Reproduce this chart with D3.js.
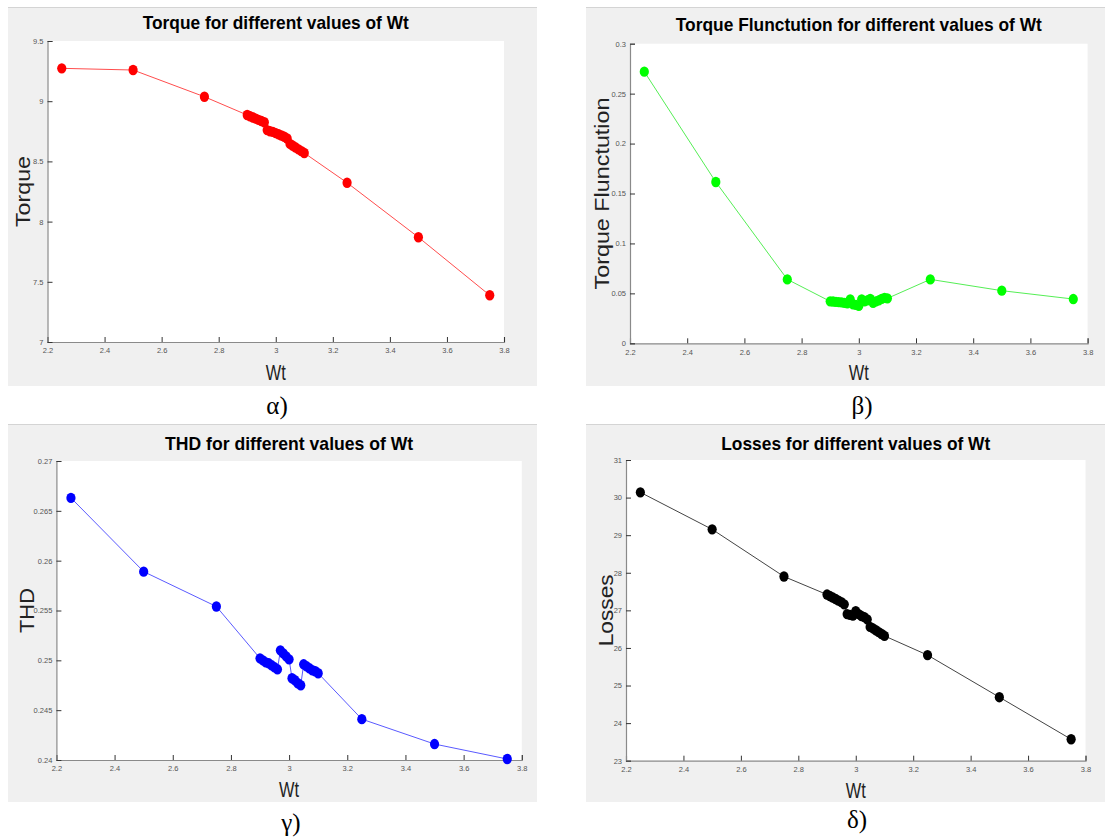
<!DOCTYPE html>
<html>
<head>
<meta charset="utf-8">
<script src="https://cdn.jsdelivr.net/npm/d3@7"></script>
<style>
  html, body { margin: 0; padding: 0; background: #ffffff; }
  svg { display: block; }
</style>
</head>
<body>
<svg id="chart" width="1105" height="839"></svg>
<script>
// ---------------- DATA ----------------
const wt = [2.25, 2.5, 2.75,
  2.90, 2.91, 2.92, 2.93, 2.94, 2.95, 2.96, 2.97, 2.98, 2.99, 3.00,
  3.01, 3.02, 3.03, 3.04, 3.05, 3.06, 3.07, 3.08, 3.09, 3.10,
  3.25, 3.5, 3.75];

const torque = [9.273, 9.259, 9.037,
  8.885, 8.875, 8.865, 8.855, 8.845, 8.835, 8.825, 8.760, 8.750, 8.745, 8.735,
  8.725, 8.715, 8.705, 8.690, 8.645, 8.630, 8.615, 8.600, 8.585, 8.570,
  8.323, 7.870, 7.388];

const torqueFluct = [0.272, 0.1615, 0.064,
  0.0420, 0.0418, 0.0415, 0.0412, 0.0410, 0.0405, 0.0400, 0.0440, 0.0390, 0.0385, 0.0375,
  0.0440, 0.0420, 0.0430, 0.0445, 0.0405, 0.0420, 0.0430, 0.0445, 0.0455, 0.0450,
  0.064, 0.0527, 0.0443];

const thd = [0.2663, 0.2589, 0.2554,
  0.2502, 0.2500, 0.2498, 0.2497, 0.2495, 0.2493, 0.2491, 0.2510, 0.2507, 0.2504, 0.2501,
  0.2482, 0.2480, 0.2477, 0.2475, 0.2496, 0.2494, 0.2492, 0.2490, 0.2489, 0.2487,
  0.2441, 0.2416, 0.2401];

const losses = [30.14, 29.155, 27.90,
  27.42, 27.38, 27.34, 27.30, 27.26, 27.22, 27.16, 26.90, 26.88, 26.86, 26.98,
  26.90, 26.85, 26.82, 26.76, 26.56, 26.52, 26.47, 26.42, 26.37, 26.32,
  25.81, 24.69, 23.57];

const xTicks = [2.2, 2.4, 2.6, 2.8, 3, 3.2, 3.4, 3.6, 3.8];
const torqueTicks = [7, 7.5, 8, 8.5, 9, 9.5];
const fluctTicks = [0, 0.05, 0.1, 0.15, 0.2, 0.25, 0.3];
const thdTicks = [0.24, 0.245, 0.25, 0.255, 0.26, 0.265, 0.27];
const lossTicks = [23, 24, 25, 26, 27, 28, 29, 30, 31];

const titles = ["Torque for different values of Wt",
                "Torque Flunctution for different values of Wt",
                "THD for different values of Wt",
                "Losses for different values of Wt"];
const yLabels = ["Torque", "Torque Flunctution", "THD", "Losses"];
const captions = ["α)", "β)", "γ)", "δ)"];

// ---------------- LAYOUT ----------------
const panels = [
  { values: torque, yTicks: torqueTicks, color: "#ff0000", line: "#ff4d4d",
    bg: [8, 7, 537, 386], plot: [47.5, 41, 504, 342],
    titleY: 29, titleW: 266, yLabX: 30, yLabLen: 71, wtY: 380, capX: 277, capY: 414 },
  { values: torqueFluct, yTicks: fluctTicks, color: "#00ff00", line: "#55ee55",
    bg: [586, 7, 1105, 386], plot: [630, 43.7, 1087.6, 343.3],
    titleY: 31, titleW: 366, yLabX: 609, yLabLen: 192, wtY: 380, capX: 862, capY: 414 },
  { values: thd, yTicks: thdTicks, color: "#0000ff", line: "#5a5aff",
    bg: [8, 424, 537, 802], plot: [56.4, 461, 521.8, 760],
    titleY: 450, titleW: 248, yLabX: 34, yLabLen: 45, wtY: 797, capX: 291, capY: 831 },
  { values: losses, yTicks: lossTicks, color: "#000000", line: "#444444",
    bg: [586, 424, 1105, 802], plot: [626, 460, 1085.5, 760.7],
    titleY: 450, titleW: 269, yLabX: 613, yLabLen: 72, wtY: 798, capX: 857, capY: 828 }
];

const svg = d3.select("#chart");

panels.forEach((p, i) => {
  const g = svg.append("g");
  const [bx0, by0, bx1, by1] = p.bg;
  const [px0, py0, px1, py1] = p.plot;

  g.append("rect").attr("x", bx0).attr("y", by0)
    .attr("width", bx1 - bx0).attr("height", by1 - by0)
    .attr("fill", "#f0f0f0");
  g.append("line").attr("x1", bx0).attr("x2", bx1).attr("y1", by0 + 0.5).attr("y2", by0 + 0.5)
    .attr("stroke", "#d4d4d4").attr("stroke-width", 1);

  g.append("rect").attr("x", px0).attr("y", py0)
    .attr("width", px1 - px0).attr("height", py1 - py0)
    .attr("fill", "#ffffff");

  const yDom = d3.extent(p.yTicks);
  const x = d3.scaleLinear().domain([2.2, 3.8]).range([px0, px1]);
  const y = d3.scaleLinear().domain(yDom).range([py1, py0]);

  // axes (MATLAB style: ticks inward)
  const xAxis = d3.axisBottom(x).tickValues(xTicks).tickSize(-5).tickPadding(6)
    .tickFormat(d => String(d));
  const yAxis = d3.axisLeft(y).tickValues(p.yTicks).tickSize(-5).tickPadding(4)
    .tickFormat(d => String(d));

  const gx = g.append("g").attr("transform", `translate(0,${py1})`).call(xAxis);
  const gy = g.append("g").attr("transform", `translate(${px0},0)`).call(yAxis);
  [gx, gy].forEach(ax => {
    ax.select(".domain").attr("stroke", "#8a8a8a").attr("stroke-width", 1.2);
    ax.selectAll(".tick line").attr("stroke", "#333").attr("stroke-width", 1);
    ax.selectAll(".tick text").attr("fill", "#555")
      .style("font-family", "'Liberation Sans Narrow', 'Liberation Sans', Arial, sans-serif")
      .style("font-size", "7.5px");
  });

  // line
  const pts = wt.map((w, k) => [w, p.values[k]]);
  const lineGen = d3.line().x(d => x(d[0])).y(d => y(d[1]));
  g.append("path").datum(pts).attr("d", lineGen)
    .attr("fill", "none").attr("stroke", p.line).attr("stroke-width", 1);

  // markers
  g.append("g").selectAll("ellipse").data(pts).join("ellipse")
    .attr("cx", d => x(d[0])).attr("cy", d => y(d[1]))
    .attr("rx", 4.6).attr("ry", 5.2)
    .attr("fill", p.color);

  // title
  g.append("text").attr("x", (px0 + px1) / 2).attr("y", p.titleY)
    .attr("text-anchor", "middle")
    .attr("textLength", p.titleW).attr("lengthAdjust", "spacingAndGlyphs")
    .style("font-family", "'Liberation Sans Narrow', 'Liberation Sans', Arial, sans-serif")
    .style("font-weight", "bold").style("font-size", "19px").attr("fill", "#000")
    .text(titles[i]);

  // y label
  g.append("text")
    .attr("transform", `translate(${p.yLabX},${(py0 + py1) / 2}) rotate(-90)`)
    .attr("text-anchor", "middle")
    .attr("textLength", p.yLabLen).attr("lengthAdjust", "spacingAndGlyphs")
    .style("font-family", "'Liberation Sans', Arial, sans-serif")
    .style("font-size", "21px").attr("fill", "#222")
    .text(yLabels[i]);

  // x label
  g.append("text").attr("x", (px0 + px1) / 2).attr("y", p.wtY)
    .attr("text-anchor", "middle")
    .attr("textLength", 20).attr("lengthAdjust", "spacingAndGlyphs")
    .style("font-family", "'Liberation Sans', Arial, sans-serif")
    .style("font-size", "22px").attr("fill", "#222")
    .text("Wt");

  // caption
  svg.append("text").attr("x", p.capX).attr("y", p.capY)
    .attr("text-anchor", "middle")
    .style("font-family", "'Liberation Serif', 'Times New Roman', serif")
    .style("font-size", "25px").attr("fill", "#000")
    .text(captions[i]);
});
</script>
</body>
</html>
